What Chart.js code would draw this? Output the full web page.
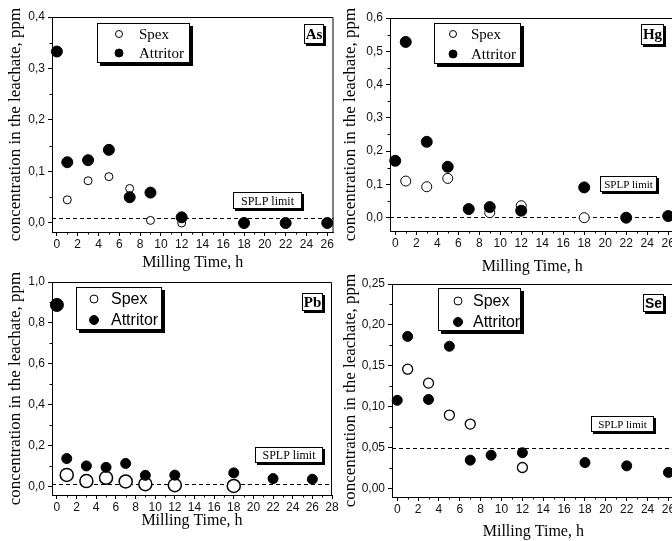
<!DOCTYPE html>
<html>
<head>
<meta charset="utf-8">
<title>Leachate concentration vs milling time</title>
<script src="https://cdn.jsdelivr.net/npm/chart.js@4.4.1/dist/chart.umd.min.js"></script>
<style>
  html, body { margin: 0; padding: 0; background: #fff; overflow: hidden; width: 672px; height: 541px; }
  .panel { position: absolute; }
</style>
</head>
<body>
<div class="panel" style="left:0;top:0;width:340px;height:272px"><canvas id="c-as"></canvas></div>
<div class="panel" style="left:336px;top:0;width:345px;height:276px"><canvas id="c-hg"></canvas></div>
<div class="panel" style="left:0;top:270px;width:340px;height:260px"><canvas id="c-pb"></canvas></div>
<div class="panel" style="left:336px;top:270px;width:345px;height:271px"><canvas id="c-se"></canvas></div>
<script>
// tick labels
const hourTicks = [0, 2, 4, 6, 8, 10, 12, 14, 16, 18, 20, 22, 24, 26];
const hourTicksPb = [0, 2, 4, 6, 8, 10, 12, 14, 16, 18, 20, 22, 24, 26, 28];
const asTicks = [0, 0.1, 0.2, 0.3, 0.4];
const hgTicks = [0, 0.1, 0.2, 0.3, 0.4, 0.5, 0.6];
const pbTicks = [0, 0.2, 0.4, 0.6, 0.8, 1.0];
const seTicks = [0, 0.05, 0.10, 0.15, 0.20, 0.25];

// series labels
const seriesNames = ['Spex', 'Attritor'];

// As
const asSpexHours = [1, 3, 5, 7, 9, 12];
const asSpex = [0.045, 0.082, 0.090, 0.067, 0.005, 0.000];
const asAttritorHours = [0, 1, 3, 5, 7, 9, 12, 18, 22, 26];
const asAttritor = [0.333, 0.118, 0.122, 0.142, 0.050, 0.059, 0.011, 0.000, 0.000, 0.000];
const asLimit = 0.01;

// Hg
const hgSpexHours = [1, 3, 5, 9, 12, 18];
const hgSpex = [0.110, 0.093, 0.118, 0.015, 0.036, 0.000];
const hgAttritorHours = [0, 1, 3, 5, 7, 9, 12, 18, 22, 26];
const hgAttritor = [0.171, 0.528, 0.228, 0.153, 0.026, 0.032, 0.021, 0.091, 0.000, 0.005];
const hgLimit = 0.002;

// Pb
const pbSpexHours = [1, 3, 5, 7, 9, 12, 18];
const pbSpex = [0.058, 0.028, 0.044, 0.026, 0.013, 0.008, 0.004];
const pbAttritorHours = [0, 1, 3, 5, 7, 9, 12, 18, 22, 26];
const pbAttritor = [0.888, 0.138, 0.102, 0.095, 0.114, 0.056, 0.057, 0.068, 0.040, 0.037];
const pbLimit = 0.015;

// Se
const seSpexHours = [1, 3, 5, 7, 12];
const seSpex = [0.146, 0.129, 0.090, 0.079, 0.026];
const seAttritorHours = [0, 1, 3, 5, 7, 9, 12, 18, 22, 26];
const seAttritor = [0.108, 0.186, 0.109, 0.174, 0.035, 0.041, 0.044, 0.032, 0.028, 0.020];
const seLimit = 0.05;

const SERIF = '"Liberation Serif", "Times New Roman", serif';
const SANS = '"Liberation Sans", Arial, sans-serif';

function pts(xs, ys) {
    return xs.map((x, i) => ({ x: x, y: ys[i] }));
}

function shadowBox(ctx, x, y, w, h, sh) {
    ctx.fillStyle = '#000';
    ctx.fillRect(x + sh, y + sh, w, h);
    ctx.fillStyle = '#fff';
    ctx.fillRect(x, y, w, h);
    ctx.strokeStyle = '#000';
    ctx.lineWidth = 1;
    ctx.strokeRect(x + 0.5, y + 0.5, w - 1, h - 1);
}

function marker(ctx, x, y, r, filled) {
    ctx.beginPath();
    ctx.arc(x, y, r, 0, Math.PI * 2);
    ctx.fillStyle = filled ? '#000' : '#fff';
    ctx.fill();
    ctx.strokeStyle = '#000';
    ctx.lineWidth = 1;
    ctx.stroke();
}

const decorPlugin = {
    id: 'decor',
    beforeDatasetsDraw(chart) {
        const o = chart.options.plugins.decor;
        const { ctx, chartArea: a } = chart;
        const yl = Math.round(chart.scales.y.getPixelForValue(o.limit)) + 0.5;
        ctx.save();
        ctx.strokeStyle = '#000';
        ctx.lineWidth = 1.2;
        ctx.setLineDash([4, 3]);
        ctx.beginPath();
        ctx.moveTo(a.left, yl);
        ctx.lineTo(a.right, yl);
        ctx.stroke();
        ctx.restore();
    },
    afterDatasetsDraw(chart) {
        const o = chart.options.plugins.decor;
        const { ctx, chartArea: a, scales: { x, y } } = chart;
        ctx.save();
        // top and right of the frame
        ctx.strokeStyle = '#000';
        ctx.lineWidth = 1;
        ctx.beginPath();
        ctx.moveTo(a.left, a.top + 0.5);
        ctx.lineTo(a.right - 0.5, a.top + 0.5);
        ctx.lineTo(a.right - 0.5, a.bottom);
        ctx.stroke();

        // minor ticks halfway between major ones
        ctx.beginPath();
        const xt = x.ticks.map(t => t.value);
        for (let i = 0; i < xt.length - 1; i++) {
            const px = Math.round(x.getPixelForValue((xt[i] + xt[i + 1]) / 2)) + 0.5;
            ctx.moveTo(px, a.bottom);
            ctx.lineTo(px, a.bottom + 2.5);
        }
        const yt = y.ticks.map(t => t.value);
        for (let i = 0; i < yt.length - 1; i++) {
            const py = Math.round(y.getPixelForValue((yt[i] + yt[i + 1]) / 2)) + 0.5;
            ctx.moveTo(a.left, py);
            ctx.lineTo(a.left - 2.5, py);
        }
        ctx.stroke();

        // legend box
        const L = o.legend;
        shadowBox(ctx, L.x, L.y, L.w, L.h, 3);
        ctx.font = L.font;
        ctx.textBaseline = 'middle';
        ctx.textAlign = 'left';
        chart.data.datasets.slice().sort((p, q) => p.legendIndex - q.legendIndex).forEach((ds, i) => {
            const ry = L.y + L.rows[i];
            marker(ctx, L.x + L.mx, ry, ds.legendR, ds.pointBackgroundColor === '#000');
            ctx.fillStyle = '#000';
            ctx.fillText(ds.label, L.x + L.tx, ry + 1);
        });

        // element tag
        const T = o.tag;
        ctx.font = T.font;
        const tw = Math.ceil(ctx.measureText(T.text).width) + 3;
        shadowBox(ctx, T.right - tw, T.y, tw, T.h, 2);
        ctx.fillStyle = '#000';
        ctx.textAlign = 'center';
        ctx.fillText(T.text, T.right - tw / 2, T.y + T.h / 2 + 1);

        // limit note
        const S = o.note;
        shadowBox(ctx, S.x, S.y, S.w, S.h, 2);
        ctx.font = S.font;
        ctx.fillStyle = '#000';
        ctx.fillText('SPLP limit', S.x + S.w / 2, S.y + S.h / 2 + 1);
        ctx.restore();
    }
};

function makePanel(p) {
    const fmt = v => v.toFixed(p.decimals).replace('.', ',');
    new Chart(document.getElementById(p.id), {
        type: 'scatter',
        data: {
            datasets: [
                {
                    label: seriesNames[0],
                    data: pts(p.spexHours, p.spex),
                    order: 1,
                    legendIndex: 0,
                    legendR: p.legendR[0],
                    clip: false,
                    pointRadius: p.spexR,
                    pointBackgroundColor: '#fff',
                    pointBorderColor: '#000',
                    pointBorderWidth: p.spexBw
                },
                {
                    label: seriesNames[1],
                    data: pts(p.attHours, p.att),
                    order: 0,
                    legendIndex: 1,
                    legendR: p.legendR[1],
                    clip: false,
                    pointRadius: p.attR,
                    pointBackgroundColor: '#000',
                    pointBorderColor: '#000',
                    pointBorderWidth: 1
                }
            ]
        },
        options: {
            responsive: true,
            maintainAspectRatio: false,
            animation: false,
            events: [],
            layout: { padding: { left: 0, top: p.top, right: p.right, bottom: 0 } },
            scales: {
                x: {
                    type: 'linear',
                    min: p.xMin,
                    max: p.xMax,
                    afterBuildTicks: s => { s.ticks = p.xTicks.map(v => ({ value: v })); },
                    afterFit: s => { s.height = p.xHeight; s.paddingLeft = 0; s.paddingRight = 0; },
                    grid: { drawOnChartArea: false, color: '#000', tickLength: 4, tickWidth: 1 },
                    border: { color: '#000', width: 1 },
                    ticks: {
                        color: '#111',
                        padding: 1,
                        maxRotation: 0,
                        autoSkip: false,
                        font: { family: SANS, size: 12 },
                        callback: v => String(v)
                    },
                    title: {
                        display: true,
                        text: 'Milling Time, h',
                        color: '#000',
                        padding: { top: 0, bottom: 0 },
                        font: { family: SERIF, size: 16 }
                    }
                },
                y: {
                    type: 'linear',
                    min: p.yMin,
                    max: p.yMax,
                    afterBuildTicks: s => { s.ticks = p.yTicks.map(v => ({ value: v })); },
                    afterFit: s => { s.width = p.yWidth; s.paddingTop = 0; s.paddingBottom = 0; },
                    grid: { drawOnChartArea: false, color: '#000', tickLength: 4, tickWidth: 1 },
                    border: { color: '#000', width: 1 },
                    ticks: {
                        color: '#111',
                        padding: 3,
                        autoSkip: false,
                        font: { family: SANS, size: 12 },
                        callback: v => fmt(v)
                    },
                    title: {
                        display: true,
                        text: 'concentration in the leachate, ppm',
                        color: '#000',
                        padding: { top: p.yTitlePad, bottom: 0 },
                        font: { family: SERIF, size: 17 }
                    }
                }
            },
            plugins: {
                legend: { display: false },
                tooltip: { enabled: false },
                decor: {
                    limit: p.limit,
                    legend: p.legend,
                    tag: p.tag,
                    note: p.note
                }
            }
        },
        plugins: [decorPlugin]
    });
}

makePanel({
    id: 'c-as', decimals: 1,
    spexHours: asSpexHours, spex: asSpex, attHours: asAttritorHours, att: asAttritor, limit: asLimit,
    xTicks: hourTicks, yTicks: asTicks,
    xMin: -0.47, xMax: 26.6, yMin: -0.0175, yMax: 0.4,
    top: 17, right: 5, yWidth: 52, xHeight: 40, yTitlePad: 5,
    spexR: 4, spexBw: 1, attR: 5.5, legendR: [3.5, 4],
    legend: { x: 97, y: 23, w: 93, h: 40, mx: 22, tx: 42, rows: [11, 30], font: '15px ' + SERIF },
    tag: { text: 'As', right: 324, y: 24, h: 20, font: 'bold 15px ' + SERIF },
    note: { x: 233, y: 192, w: 69, h: 17, font: '12px ' + SERIF }
});

makePanel({
    id: 'c-hg', decimals: 1,
    spexHours: hgSpexHours, spex: hgSpex, attHours: hgAttritorHours, att: hgAttritor, limit: hgLimit,
    xTicks: hourTicks, yTicks: hgTicks,
    xMin: -0.5, xMax: 26.6, yMin: -0.04, yMax: 0.6,
    top: 18, right: 6, yWidth: 54, xHeight: 45, yTitlePad: 4,
    spexR: 5, spexBw: 1, attR: 5.5, legendR: [3.5, 4],
    legend: { x: 98, y: 23, w: 87, h: 41, mx: 19, tx: 37, rows: [11, 31], font: '15px ' + SERIF },
    tag: { text: 'Hg', right: 328, y: 24, h: 21, font: 'bold 15px ' + SERIF },
    note: { x: 264, y: 176, w: 57, h: 16, font: '11px ' + SERIF }
});

makePanel({
    id: 'c-pb', decimals: 1,
    spexHours: pbSpexHours, spex: pbSpex, attHours: pbAttritorHours, att: pbAttritor, limit: pbLimit,
    xTicks: hourTicksPb, yTicks: pbTicks,
    xMin: -0.5, xMax: 28, yMin: -0.04, yMax: 1.0,
    top: 12, right: 5, yWidth: 52, xHeight: 35, yTitlePad: 5,
    spexR: 6.5, spexBw: 1.5, attR: pbAttritorHours.map((h, i) => i === 0 ? 6.5 : 5), legendR: [4, 4.5],
    legend: { x: 76, y: 17, w: 86, h: 43, mx: 18, tx: 35, rows: [12, 33], font: '16px ' + SANS },
    tag: { text: 'Pb', right: 323, y: 23, h: 18, font: 'bold 15px ' + SERIF },
    note: { x: 255, y: 177, w: 68, h: 16, font: '12px ' + SERIF }
});

makePanel({
    id: 'c-se', decimals: 2,
    spexHours: seSpexHours, spex: seSpex, attHours: seAttritorHours, att: seAttritor, limit: seLimit,
    xTicks: hourTicks, yTicks: seTicks,
    xMin: -0.5, xMax: 26.6, yMin: -0.01, yMax: 0.25,
    top: 14, right: 6, yWidth: 56, xHeight: 44, yTitlePad: 4,
    spexR: 5, spexBw: 1.3, attR: 5, legendR: [4, 4.5],
    legend: { x: 102, y: 18, w: 83, h: 43, mx: 20, tx: 35, rows: [13, 34], font: '16px ' + SANS },
    tag: { text: 'Se', right: 328, y: 24, h: 18, font: 'bold 14px ' + SANS },
    note: { x: 255, y: 146, w: 63, h: 16, font: '11px ' + SERIF }
});
</script>
</body>
</html>
